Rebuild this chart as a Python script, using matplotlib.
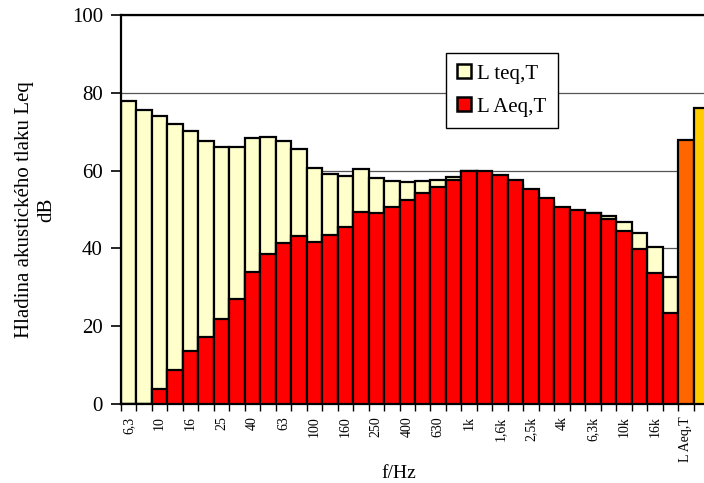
import matplotlib
matplotlib.use("Agg")
import matplotlib.pyplot as plt
from matplotlib.patches import Patch

bands = ["6,3", "8", "10", "12,5", "16", "20", "25", "31,5", "40", "50", "63", "80",
         "100", "125", "160", "200", "250", "315", "400", "500", "630", "800",
         "1k", "1,25k", "1,6k", "2k", "2,5k", "3,15k", "4k", "5k", "6,3k", "8k",
         "10k", "12,5k", "16k", "20k"]
total_labels = ["L Aeq,T", "L teq,T"]

L_teq = [78.0, 75.6, 74.0, 72.0, 70.1, 67.7, 66.0, 66.0, 68.5, 68.7, 67.7, 65.5,
         60.6, 59.0, 58.6, 60.4, 58.0, 57.2, 57.0, 57.3, 57.6, 58.3,
         59.9, 59.3, 57.9, 56.4, 54.0, 51.7, 49.6, 49.4, 49.1, 48.3,
         46.8, 43.9, 40.4, 32.6]
L_Aeq = [0.0, 0.0, 3.8, 8.7, 13.5, 17.1, 21.8, 26.9, 33.9, 38.6, 41.3, 43.2,
         41.7, 43.4, 45.6, 49.4, 49.2, 50.7, 52.4, 54.2, 55.9, 57.6,
         59.9, 59.9, 58.9, 57.6, 55.3, 52.9, 50.6, 49.9, 49.0, 47.6,
         44.5, 39.8, 33.8, 23.3]
total_Aeq = 67.9
total_teq = 76.0

yticks = [0, 20, 40, 60, 80, 100]

plt.rcParams['font.family'] = ['Liberation Serif', 'DejaVu Serif']

fig = plt.figure(figsize=(7.04, 4.83), dpi=100)
ax = fig.add_axes([121/704, 79/483, 588/704, 389/483])

n = len(bands)
xs = list(range(n))
ax.set_axisbelow(True)
ax.yaxis.grid(True, color='#555555', lw=0.9)

ax.bar(xs, L_teq, width=1.0, color='#FFFFCC', edgecolor='black', lw=1.6, zorder=2)
ax.bar(xs, L_Aeq, width=1.0, color='#FF0000', edgecolor='black', lw=1.6, zorder=3)
ax.bar([n], [total_Aeq], width=1.0, color='#FF6600', edgecolor='black', lw=1.6, zorder=3)
ax.bar([n + 1], [total_teq], width=1.0, color='#FFCC00', edgecolor='black', lw=1.6, zorder=3)

ax.set_xlim(-0.5, n + 1.5)
ax.set_ylim(0, 100)
ax.set_yticks(yticks)
ax.tick_params(axis='y', labelsize=15, length=7, width=1.2, direction='out', pad=6)

all_labels = bands + total_labels
major = list(range(0, n + 2, 2))
ax.set_xticks(major)
ax.set_xticklabels([all_labels[i] for i in major], rotation=90, fontsize=10)
ax.tick_params(axis='x', length=0, pad=9)
ax.set_xticks([i - 0.5 for i in range(n + 3)], minor=True)
ax.tick_params(axis='x', which='minor', length=5, width=1, direction='out')

for s in ['left', 'bottom', 'top']:
    ax.spines[s].set_linewidth(1.6)
ax.spines['right'].set_visible(False)

ax.set_xlabel('f/Hz', fontsize=14)
ax.xaxis.set_label_coords((399 - 121) / 588, -(478 - 404) / 389, transform=ax.transAxes)
ax.xaxis.label.set_va('baseline')
ax.set_ylabel('Hladina akustického tlaku Leq\ndB', fontsize=15, linespacing=1.2)
ax.yaxis.set_label_coords((56 - 121) / 588, 0.5)

handles = [Patch(facecolor='#FFFFCC', edgecolor='black', lw=1.8, label='L teq,T'),
           Patch(facecolor='#FF0000', edgecolor='black', lw=1.8, label='L Aeq,T')]
leg = ax.legend(handles=handles, loc='upper left', bbox_to_anchor=(446/704, 1 - 53/483),
                bbox_transform=fig.transFigure, fontsize=15, fancybox=False,
                edgecolor='black', framealpha=1, handlelength=0.65, handleheight=0.65,
                handletextpad=0.3, borderpad=0.55, labelspacing=0.65, borderaxespad=0)
leg.get_frame().set_linewidth(1.0)
leg.set_zorder(5)

fig.savefig('out.png', dpi=100)
